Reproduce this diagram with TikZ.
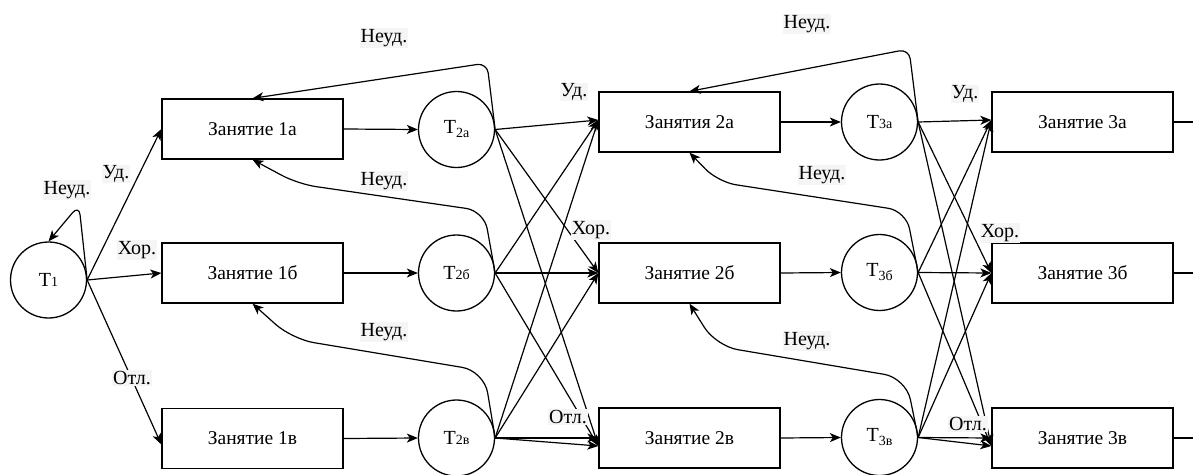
\documentclass[tikz,border=0pt]{standalone}
\usepackage{fontspec}
\setmainfont{Liberation Serif}
\usetikzlibrary{arrows.meta}
\newcommand{\tsub}[1]{T{\fontsize{14}{14}\selectfont #1}}
\newcommand{\tlow}[1]{T\raisebox{-4pt}{\fontsize{14}{14}\selectfont #1}}
\begin{document}
\begin{tikzpicture}[x=1pt,y=-1pt,
  mainfont/.style={font=\fontsize{19.5}{22}\selectfont},
  box/.style={draw,line width=1.3pt,minimum width=181pt,minimum height=60pt,inner sep=0pt,mainfont},
  circ/.style={draw,circle,line width=1.3pt,minimum size=76pt,inner sep=0pt,font=\fontsize{20}{22}\selectfont},
  arr/.style={line width=1.2pt,-{Stealth[length=11pt,width=9pt,inset=3pt]}},
  plain/.style={line width=1.2pt},
  lab/.style={fill=black!4,inner sep=1pt,font=\fontsize{20}{22}\selectfont}]
\useasboundingbox (0,0) rectangle (1193,474);
% circles
\node[circ] (t1) at (48.5,280) {\tsub{1}};
\node[circ] (t2a) at (456.5,129.5) {\tlow{2а}};
\node[circ] (t2b) at (456.5,273) {\tsub{2б}};
\node[circ] (t2v) at (456.5,438) {\tsub{2в}};
\node[circ] (t3a) at (879.5,122) {\tsub{3а}};
\node[circ] (t3b) at (879.5,272.5) {\tlow{3б}};
\node[circ] (t3v) at (879.5,437.5) {\tlow{3в}};
% boxes
\node[box] (b1a) at (252.5,129) {Занятие 1а};
\node[box] (b1b) at (252.5,273) {Занятие 1б};
\node[box] (b1v) at (252.5,438.5) {Занятие 1в};
\node[box] (b2a) at (689.5,122) {Занятия 2а};
\node[box] (b2b) at (689.5,273) {Занятие 2б};
\node[box] (b2v) at (689.5,438) {Занятие 2в};
\node[box] (b3a) at (1082.5,122) {Занятие 3а};
\node[box] (b3b) at (1082.5,273) {Занятие 3б};
\node[box] (b3v) at (1082.5,438) {Занятие 3в};
\coordinate (e3a) at (1193,122);
\coordinate (e3b) at (1193,273);
\coordinate (e3v) at (1193,438);
% T1 edges
\draw[arr] (t1.east) -- (b1a.west);
\draw[arr] (t1.east) -- (b1b.west);
\draw[arr] (t1.east) -- ([yshift=-6pt]b1v.west);
\draw[arr,rounded corners=10pt] (t1.east) -- (79,205) -- (t1.north);
% boxes to circles
\draw[arr] (b1a.east) -- (t2a.west);
\draw[arr] (b1b.east) -- (t2b.west);
\draw[arr] (b1v.east) -- (t2v.west);
\draw[arr] (b2a.east) -- (t3a.west);
\draw[arr] (b2b.east) -- (t3b.west);
\draw[arr] (b2v.east) -- (t3v.west);
\draw[plain] (b3a.east) -- (e3a);
\draw[plain] (b3b.east) -- (e3b);
\draw[plain] (b3v.east) -- (e3v);
% T2 to boxes 2
\foreach \s in {t2a,t2b,t2v}{
  \draw[arr] (\s.east) -- ([yshift=2pt]b2a.west);
  \draw[arr] (\s.east) -- (b2b.west);
  \draw[arr] (\s.east) -- ([yshift=-8pt]b2v.west);
}
\draw[arr] (t2v.east) -- (b2v.west);
\foreach \s in {t3a,t3b,t3v}{
  \draw[arr] (\s.east) -- ([yshift=2pt]b3a.west);
  \draw[arr] (\s.east) -- (b3b.west);
  \draw[arr] (\s.east) -- ([yshift=-8pt]b3v.west);
}
\draw[arr] (t3v.east) -- (b3v.west);
% feedback
\draw[arr,rounded corners=10pt] (t2a.east) -- (487,63) -- (b1a.north);
\draw[arr,rounded corners=18pt] (t2b.east) -- (484,211) -- (298,184) -- (b1a.south);
\draw[arr,rounded corners=22pt] (t2v.east) -- (484,371) -- (292,339) -- (b1b.south);
\draw[arr,rounded corners=10pt] (t3a.east) -- (909,49) -- (b2a.north);
\draw[arr,rounded corners=18pt] (t3b.east) -- (906,211) -- (718,182) -- (b2a.south);
\draw[arr,rounded corners=22pt] (t3v.east) -- (906,378) -- (716,346) -- (b2b.south);
% labels
\node[lab] (l1) at (67,190) {Неуд.};
\node[lab] (l2) at (116,174) {Уд.};
\node[lab] (l3) at (137,250) {Хор.};
\node[lab] (l4) at (132,378) {Отл.};
\node[lab] (l5) at (384,38) {Неуд.};
\node[lab] (l6) at (384,181) {Неуд.};
\node[lab] (l7) at (384,332) {Неуд.};
\node[lab] (l8) at (574,92) {Уд.};
\node[lab] (l9) at (591,230) {Хор.};
\node[lab] (l10) at (568,417) {Отл.};
\node[lab] (l11) at (807,24) {Неуд.};
\node[lab] (l12) at (965,94) {Уд.};
\node[lab] (l13) at (822,175) {Неуд.};
\node[lab] (l14) at (1000,233) {Хор.};
\node[lab] (l15) at (807,341) {Неуд.};
\node[lab] (l16) at (968,424) {Отл.};
\end{tikzpicture}
\end{document}
